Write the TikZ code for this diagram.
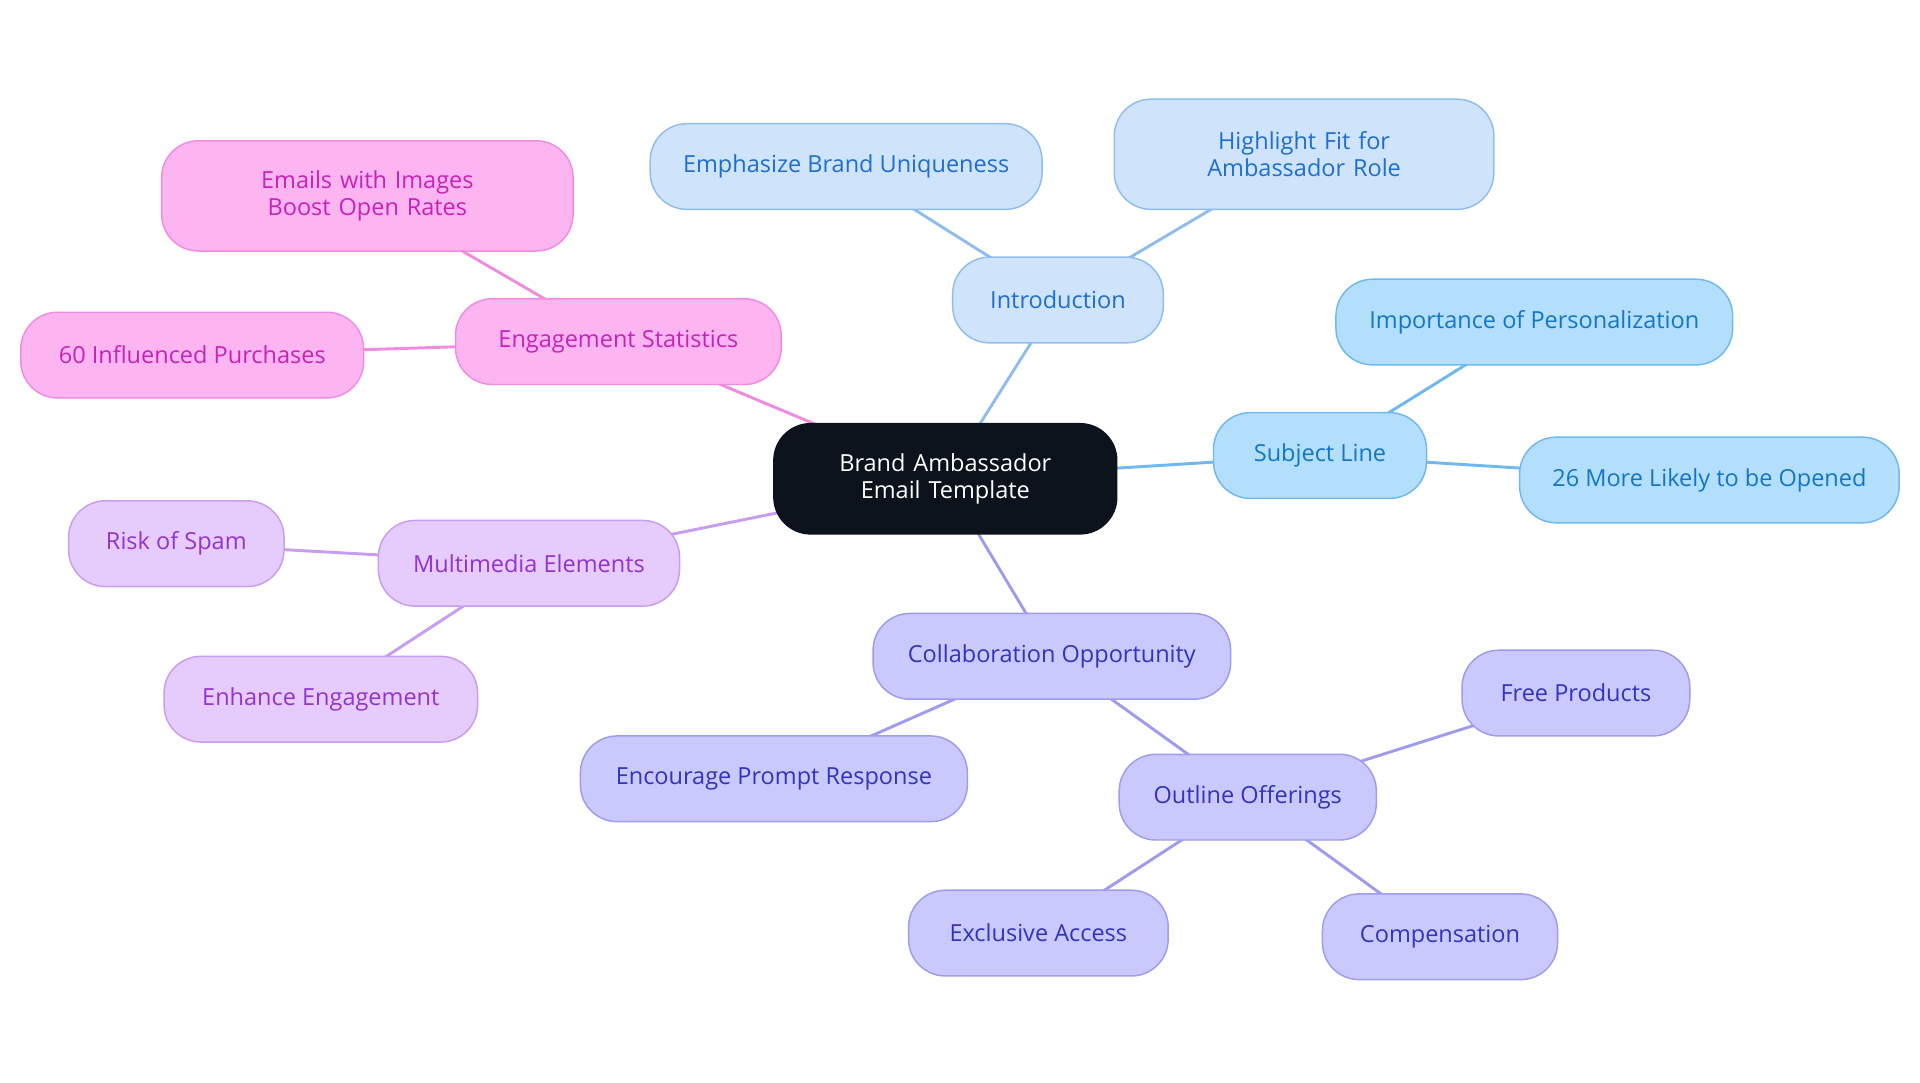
\documentclass[tikz,border=0pt]{standalone}
\usepackage{fontspec}
\setmainfont{Open Sans}
\definecolor{cfill}{HTML}{0D131C}
\definecolor{ifill}{HTML}{CFE3FB}\definecolor{iline}{HTML}{90BDEF}\definecolor{itext}{HTML}{1E6FD0}
\definecolor{sfill}{HTML}{B3DEFC}\definecolor{sline}{HTML}{6FB8F0}\definecolor{stext}{HTML}{1277C6}
\definecolor{kfill}{HTML}{C9C9FD}\definecolor{kline}{HTML}{9D9CF0}\definecolor{ktext}{HTML}{3333BF}
\definecolor{mfill}{HTML}{E6CCFC}\definecolor{mline}{HTML}{C89CF0}\definecolor{mtext}{HTML}{9433D0}
\definecolor{efill}{HTML}{FDB5F2}\definecolor{eline}{HTML}{F08CE0}\definecolor{etext}{HTML}{C822B8}
\begin{document}
\begin{tikzpicture}[x=0.5pt,y=-0.5pt,
 box/.style={rounded corners=15pt,minimum height=35pt,align=center,inner sep=2pt,font=\fontsize{9.6}{11}\selectfont,line width=0.6pt},
 I/.style={box,fill=ifill,draw=iline,text=itext},
 S/.style={box,fill=sfill,draw=sline,text=stext},
 K/.style={box,fill=kfill,draw=kline,text=ktext},
 M/.style={box,fill=mfill,draw=mline,text=mtext},
 E/.style={box,fill=efill,draw=eline,text=etext},
 l/.style={line width=1.2pt}]
\useasboundingbox (0,0) rectangle (1568,884);
\coordinate (c) at (772,391);
\coordinate (pi) at (864,245);\coordinate (pem) at (691,136);\coordinate (phi) at (1065,126);
\coordinate (ps) at (1078,372);\coordinate (pim) at (1253,263);\coordinate (p26) at (1396,392);
\coordinate (pk) at (859,536);\coordinate (pen) at (632,636);\coordinate (po) at (1019,651);
\coordinate (pf) at (1287,566);\coordinate (px) at (848,762);\coordinate (pc) at (1176,765);
\coordinate (pm) at (432,460);\coordinate (pr) at (144,444);\coordinate (ph) at (262,571);
\coordinate (pe) at (505,279);\coordinate (pa) at (300,160);\coordinate (p6) at (157,290);
\draw[l,iline] (c)--(pi) (pi)--(pem) (pi)--(phi);
\draw[l,sline] (c)--(ps) (ps)--(pim) (ps)--(p26);
\draw[l,kline] (c)--(pk) (pk)--(pen) (pk)--(po) (po)--(pf) (po)--(px) (po)--(pc);
\draw[l,mline] (c)--(pm) (pm)--(pr) (pm)--(ph);
\draw[l,eline] (c)--(pe) (pe)--(pa) (pe)--(p6);
\node[box,fill=cfill,draw=cfill,text=white,minimum width=140pt,minimum height=45pt,text width=120pt] (center) at (c) {Brand Ambassador Email Template};
\node[I,minimum width=86pt] (intro) at (pi) {Introduction};
\node[I,minimum width=160pt] (emph) at (pem) {Emphasize Brand Uniqueness};
\node[I,minimum width=155pt,minimum height=45pt,text width=130pt] (high) at (phi) {Highlight Fit for Ambassador Role};
\node[S,minimum width=87pt] (subj) at (ps) {Subject Line};
\node[S,minimum width=162pt] (imp) at (pim) {Importance of Personalization};
\node[S,minimum width=155pt] (more) at (p26) {26 More Likely to be Opened};
\node[K,minimum width=146pt] (coll) at (pk) {Collaboration Opportunity};
\node[K,minimum width=158pt] (enc) at (pen) {Encourage Prompt Response};
\node[K,minimum width=105pt] (out) at (po) {Outline Offerings};
\node[K,minimum width=93pt] (free) at (pf) {Free Products};
\node[K,minimum width=106pt] (excl) at (px) {Exclusive Access};
\node[K,minimum width=96pt] (comp) at (pc) {Compensation};
\node[M,minimum width=123pt] (multi) at (pm) {Multimedia Elements};
\node[M,minimum width=88pt] (risk) at (pr) {Risk of Spam};
\node[M,minimum width=128pt] (enh) at (ph) {Enhance Engagement};
\node[E,minimum width=133pt] (eng) at (pe) {Engagement Statistics};
\node[E,minimum width=168pt,minimum height=45pt,text width=145pt] (emails) at (pa) {Emails with Images Boost Open Rates};
\node[E,minimum width=140pt] (sixty) at (p6) {60 Influenced Purchases};
\end{tikzpicture}
\end{document}
